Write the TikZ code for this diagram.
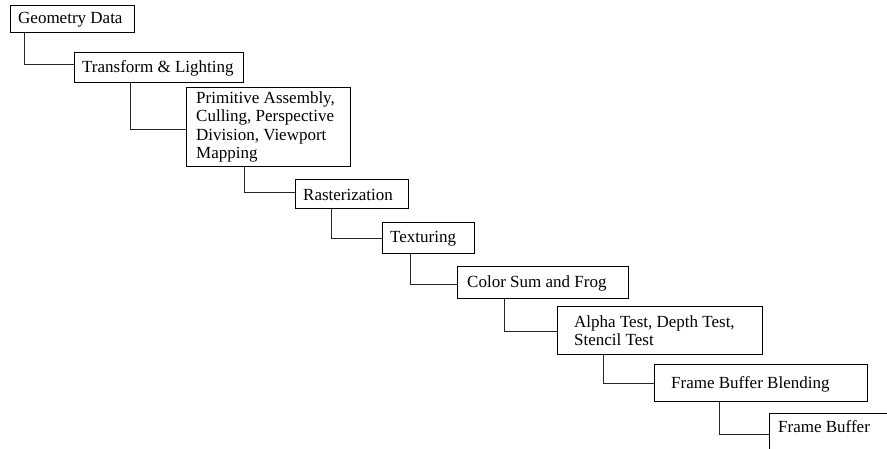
\documentclass[tikz,border=0pt]{standalone}
\usepackage{fontspec}
\setmainfont{Liberation Serif}
\begin{document}
\begin{tikzpicture}[x=1pt,y=-1pt,
  stage/.style={draw=black, line width=0.9pt, rectangle, inner sep=0pt, anchor=north west},
  caption/.style={anchor=west, inner sep=0pt, align=left,
    font=\fontsize{17}{18.5}\selectfont},
  link/.style={draw=black!85, line width=0.9pt}]
\useasboundingbox (0,0) rectangle (887,448);
\clip (0,0) rectangle (887,448);

% stage boxes (top-left corner, width, height)
\node[stage, minimum width=124, minimum height=27] (geo) at (10,5) {};
\node[stage, minimum width=169, minimum height=30] (tl) at (74,52) {};
\node[stage, minimum width=164, minimum height=79] (prim) at (186,87) {};
\node[stage, minimum width=113, minimum height=29] (rast) at (295,179) {};
\node[stage, minimum width=92, minimum height=31] (tex) at (382,222) {};
\node[stage, minimum width=171, minimum height=32] (csum) at (457,266) {};
\node[stage, minimum width=205, minimum height=48] (tests) at (557,306) {};
\node[stage, minimum width=213, minimum height=37] (blend) at (654,364) {};
\node[stage, minimum width=200, minimum height=60] (fb) at (769,413) {};

% stage captions (yshift is in page units: negative moves down)
\node[caption] (geoT) at ([xshift=8,yshift=-1]geo.west) {Geometry Data};
\node[caption] (tlT) at ([xshift=8,yshift=-1]tl.west) {Transform \& Lighting};
\node[caption] (primT) at ([xshift=10]prim.west) {Primitive Assembly,\\Culling, Perspective\\Division, Viewport\\Mapping};
\node[caption] (rastT) at ([xshift=8,yshift=-1]rast.west) {Rasterization};
\node[caption] (texT) at ([xshift=8,yshift=-1]tex.west) {Texturing};
\node[caption] (csumT) at ([xshift=10,yshift=-1]csum.west) {Color Sum and Frog};
\node[caption] (testsT) at ([xshift=17]tests.west) {Alpha Test, Depth Test,\\Stencil Test};
\node[caption] (blendT) at ([xshift=17,yshift=-1]blend.west) {Frame Buffer Blending};
\node[caption, anchor=north west] (fbT) at ([xshift=9,yshift=-7]fb.north west) {Frame Buffer};

% elbow connectors between consecutive stages
\draw[link] ([xshift=14]geo.south west) |- ([yshift=3.5]tl.west);
\draw[link] ([xshift=56]tl.south west) |- ([yshift=-2.5]prim.west);
\draw[link] ([xshift=58]prim.south west) |- ([yshift=1.5]rast.west);
\draw[link] ([xshift=36]rast.south west) |- (tex.west);
\draw[link] ([xshift=28]tex.south west) |- ([yshift=-2]csum.west);
\draw[link] ([xshift=47]csum.south west) |- ([yshift=-1]tests.west);
\draw[link] ([xshift=46]tests.south west) |- (blend.west);
\draw[link] ([xshift=65]blend.south west) |- ([yshift=-21]fb.north west);
\end{tikzpicture}
\end{document}
